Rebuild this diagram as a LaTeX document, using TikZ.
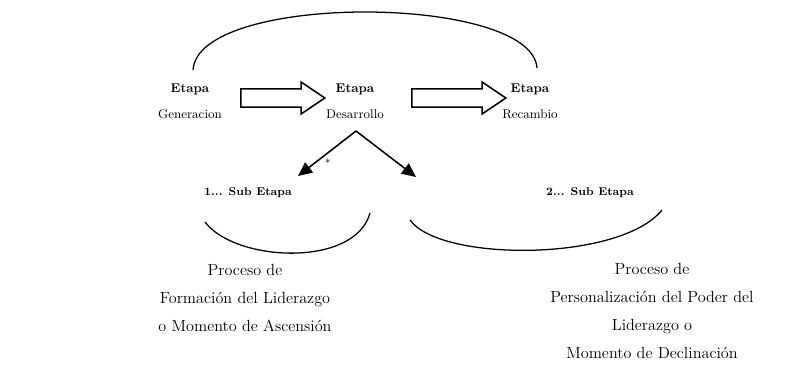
\documentclass[tikz,border=0pt]{standalone}
\usepackage{amsmath,amsfonts}
\usetikzlibrary{shapes.arrows,arrows.meta}

\begin{document}
\begin{tikzpicture}[x=0.025cm, y=-0.025cm,
    enode/.style={align=center, font=\fontsize{9}{18.5}\selectfont},
    snode/.style={font=\fontsize{8}{9}\selectfont\bfseries},
    pnode/.style={align=center, font=\fontsize{11.5}{19.9}\selectfont},
    barrow/.style={draw, line width=1.1pt, single arrow, single arrow tip angle=68, single arrow head extend=0.17cm, inner sep=0.21cm, minimum height=2.1cm},
    darrow/.style={line width=1.1pt, -{Triangle[length=10pt,width=9pt]}}]
    \useasboundingbox (0,0) rectangle (811,364);
    \node[enode] (gen) at (190,101) {\textbf{Etapa}\\Generacion};
    \node[enode] (des) at (355,101) {\textbf{Etapa}\\Desarrollo};
    \node[enode] (rec) at (530,101) {\textbf{Etapa}\\Recambio};
    \node[barrow] (a1) at (276,98) {};
    \node[barrow, minimum height=2.35cm] (a2) at (452,98) {};

    \coordinate (gtop) at (193,70);
    \coordinate (rtop) at (537,68);
    \draw[line width=0.9pt] (gtop) .. controls (198,-8) and (532,-6) .. (rtop);

    \coordinate (split) at (356,131);
    \coordinate (t1) at (298,176);
    \coordinate (t2) at (416,177);
    \node[font=\scriptsize] (ast) at (328,163) {*};
    \draw[darrow] (split) -- (t1);
    \draw[darrow] (split) -- (t2);

    \node[snode] (s1) at (248,193) {1... Sub Etapa};
    \node[snode] (s2) at (590,193) {2... Sub Etapa};

    \coordinate (l1) at (205,222);
    \coordinate (l2) at (370,213);
    \coordinate (r1) at (410,220);
    \coordinate (r2) at (662,210);
    \draw[line width=0.9pt] (l1) .. controls (235,262) and (355,268) .. (l2);
    \draw[line width=0.9pt] (r1) .. controls (440,262) and (620,262) .. (r2);

    \node[pnode] (p1) at (245,298) {Proceso de\\Formación del Liderazgo\\o Momento de Ascensión};
    \node[pnode] (p2) at (652,311) {Proceso de\\Personalización del Poder del\\Liderazgo o\\Momento de Declinación};
\end{tikzpicture}
\end{document}
